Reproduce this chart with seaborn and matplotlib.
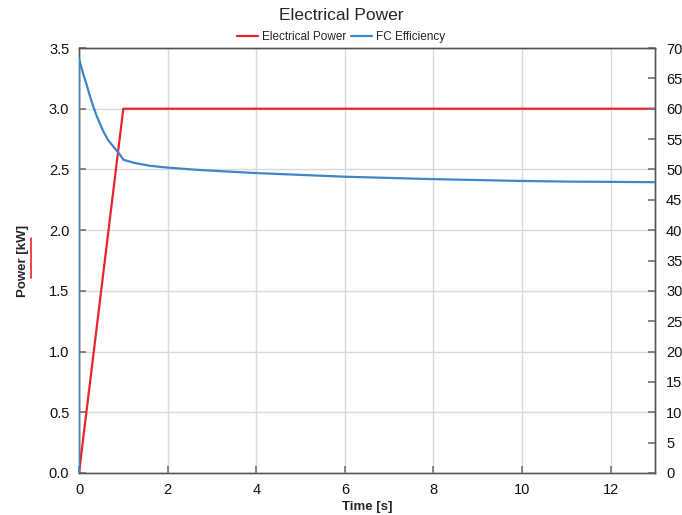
import matplotlib
matplotlib.use("Agg")
import matplotlib.pyplot as plt
from matplotlib.lines import Line2D
import seaborn as sns
import pandas as pd

# Data
power_t = [0.0, 1.0, 13.0]
power_kw = [0.0, 3.0, 3.0]

eff_t = [0.0, 0.0001, 0.05, 0.1, 0.17, 0.25, 0.32, 0.4, 0.47, 0.56, 0.66, 0.75, 0.85, 0.93, 1.0,
         1.23, 1.6, 2.0, 2.73, 4.0, 5.0, 6.0, 7.0, 8.0, 9.0, 10.0, 11.0, 12.0, 13.0]
eff_pct = [0.0, 68.3, 66.9, 65.6, 64.0, 62.0, 60.4, 58.8, 57.6, 56.1, 54.8, 54.0, 53.1, 52.4, 51.6,
           51.1, 50.6, 50.3, 49.9, 49.4, 49.1, 48.8, 48.6, 48.4, 48.25, 48.1, 48.0, 47.95, 47.9]

x_ticks = [0, 2, 4, 6, 8, 10, 12]
left_ticks = [0.0, 0.5, 1.0, 1.5, 2.0, 2.5, 3.0, 3.5]
right_ticks = list(range(0, 75, 5))

sns.set_theme(style="white")
plt.rcParams['font.family'] = ['Liberation Sans', 'DejaVu Sans']

RED = "#e8252b"
BLUE = "#3f86c4"

fig = plt.figure(figsize=(6.82, 5.15), dpi=100)
ax = fig.add_axes([79/682, 1 - 473/515, (655-79)/682, (473-48)/515])
ax2 = ax.twinx()

dfp = pd.DataFrame({"t": power_t, "v": power_kw})
dfe = pd.DataFrame({"t": eff_t, "v": eff_pct})

sns.lineplot(data=dfp, x="t", y="v", ax=ax, color=RED, linewidth=1.6, zorder=3)
sns.lineplot(data=dfe, x="t", y="v", ax=ax2, color=BLUE, linewidth=1.6, zorder=3)

ax.set_xlim(0, 13)
ax.set_ylim(0, 3.5)
ax2.set_ylim(0, 70)
ax.set_xticks(x_ticks)
ax.set_xticklabels([str(t) for t in x_ticks])
ax.set_yticks(left_ticks)
ax.set_yticklabels([f"{v:.1f}" for v in left_ticks])
ax2.set_yticks(right_ticks)
ax2.set_yticklabels([str(v) for v in right_ticks])

ax.grid(True, color="#d9d9d9", linewidth=1.0)
ax.set_axisbelow(True)
ax2.grid(False)

ax.tick_params(axis="both", direction="in", length=5, color="#777777",
               labelsize=10.5, labelcolor="#111111", left=True, bottom=True)
ax.tick_params(axis="y", pad=7)
ax.tick_params(axis="x", pad=7)
ax2.tick_params(axis="y", direction="in", length=5, color="#777777",
                labelsize=10.5, labelcolor="#111111", right=True, pad=8)

for a in (ax, ax2):
    for s in a.spines.values():
        s.set_color("#555555")
        s.set_linewidth(1.0)
ax.spines["bottom"].set_color("#888888")
ax.spines["left"].set_color("#888888")

ax.set_xlabel("Time [s]", fontsize=9.5, fontweight="bold", labelpad=3)
ax.set_ylabel("Power [kW]", fontsize=9.5, fontweight="bold", labelpad=14)
ax2.set_ylabel("")

fig.text(0.5, 1 - 15/515, "Electrical Power", ha="center", va="center", fontsize=12.5)

handles = [Line2D([], [], color=RED, linewidth=1.6),
           Line2D([], [], color=BLUE, linewidth=1.6)]
fig.legend(handles, ["Electrical Power", "FC Efficiency"], loc="center",
           bbox_to_anchor=(0.5, 1 - 37/515), ncol=2, frameon=False, fontsize=8.5,
           handlelength=1.8, handletextpad=0.3, columnspacing=0.4)

fig.add_artist(Line2D([31/682, 31/682], [1 - 238/515, 1 - 278/515],
                      color=RED, linewidth=1.2, transform=fig.transFigure))

fig.savefig("out.png", dpi=100)
